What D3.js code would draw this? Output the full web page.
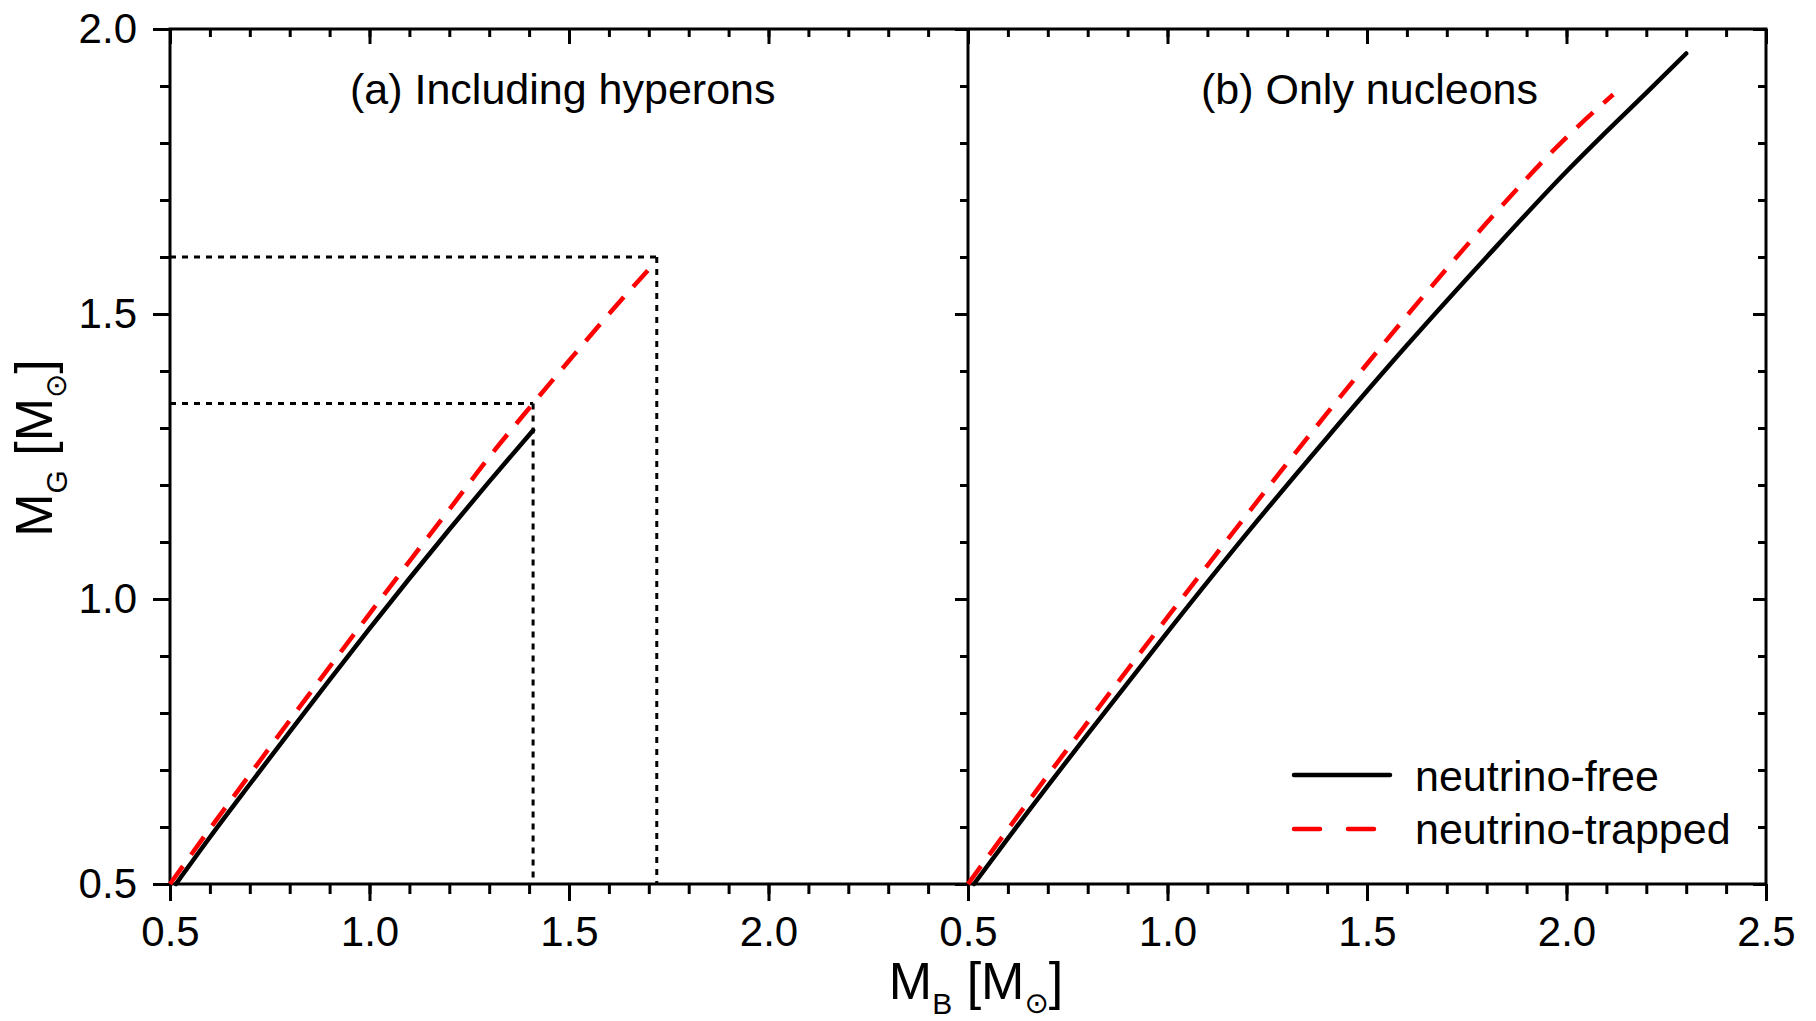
<!DOCTYPE html>
<html><head><meta charset="utf-8">
<script src="https://cdn.jsdelivr.net/npm/d3@7"></script>
<style>
html,body{margin:0;padding:0;background:#fff;}
text{font-family:"Liberation Sans",Arial,Helvetica,sans-serif;fill:#000;}
</style></head>
<body>
<svg id="c" width="1816" height="1021"></svg>
<script>
// ---------- data ----------
const xMajorLeft = [0.5, 1.0, 1.5, 2.0];
const xMajorRight = [0.5, 1.0, 1.5, 2.0, 2.5];
const yMajor = [0.5, 1.0, 1.5, 2.0];
const minorTicks = [0.5,0.6,0.7,0.8,0.9,1.0,1.1,1.2,1.3,1.4,1.5,1.6,1.7,1.8,1.9,2.0,2.1,2.2,2.3,2.4,2.5];

// Panel (a): including hyperons
const hypFreeMB = [0.515, 0.6, 0.7, 0.8, 0.9, 1.0, 1.1, 1.2, 1.3, 1.41];
const hypFreeMG = [0.50, 0.582, 0.675, 0.767, 0.858, 0.948, 1.036, 1.122, 1.206, 1.296];
const hypTrapMB = [0.5, 0.6, 0.7, 0.8, 0.9, 1.0, 1.1, 1.2, 1.3, 1.41, 1.5, 1.6, 1.715];
const hypTrapMG = [0.5, 0.597, 0.692, 0.787, 0.881, 0.974, 1.066, 1.157, 1.249, 1.343, 1.418, 1.50, 1.59];
// dotted guide lines in panel (a)
const guideMB = [1.41, 1.72];
const guideMG = [1.343, 1.6];

// Panel (b): only nucleons
const nucFreeMB = [0.515, 0.6, 0.8, 1.0, 1.2, 1.4, 1.6, 1.8, 2.0, 2.1, 2.2, 2.3];
const nucFreeMG = [0.50, 0.58, 0.763, 0.942, 1.116, 1.283, 1.445, 1.60, 1.75, 1.82, 1.888, 1.957];
const nucTrapMB = [0.5, 0.6, 0.8, 1.0, 1.2, 1.4, 1.6, 1.8, 2.0, 2.117];
const nucTrapMG = [0.5, 0.596, 0.784, 0.968, 1.149, 1.326, 1.497, 1.66, 1.81, 1.885];

const seriesNames = ["neutrino-free", "neutrino-trapped"];
const panelTitles = ["(a) Including hyperons", "(b) Only nucleons"];

// ---------- layout ----------
const svg = d3.select("#c");
const L = 170, M = 968, R = 1766, T = 29, B = 884;
const xL = d3.scaleLinear().domain([0.5, 2.5]).range([L, M]);
const xR = d3.scaleLinear().domain([0.5, 2.5]).range([M, R]);
const y = d3.scaleLinear().domain([0.5, 2.0]).range([B, T]);
const MAJ = 17, MIN = 10, AW = 3;
const fmt = d3.format(".1f");
const TICKFONT = 42;

function styleAxis(g){
  g.select(".domain").remove();
  g.selectAll(".tick line").attr("stroke","#000").attr("stroke-width",AW);
}

// bottom axes
function bottomAxis(x, majors){
  svg.append("g").attr("transform",`translate(0,${B})`)
    .call(d3.axisBottom(x).tickValues(minorTicks).tickSize(MIN).tickFormat(""))
    .call(styleAxis);
  const g = svg.append("g").attr("transform",`translate(0,${B})`)
    .call(d3.axisBottom(x).tickValues(majors).tickSize(MAJ).tickFormat(fmt))
    .call(styleAxis);
  g.selectAll(".tick text").attr("y",62).attr("dy",0)
    .attr("font-size",TICKFONT).attr("font-family","Liberation Sans");
}
bottomAxis(xL, xMajorLeft);
bottomAxis(xR, xMajorRight);

// top axes (ticks pointing down)
function topAxis(x, majors){
  svg.append("g").attr("transform",`translate(0,${T})`)
    .call(d3.axisBottom(x).tickValues(minorTicks).tickSize(MIN-2).tickFormat(""))
    .call(styleAxis);
  svg.append("g").attr("transform",`translate(0,${T})`)
    .call(d3.axisBottom(x).tickValues(majors).tickSize(MAJ-2).tickFormat(""))
    .call(styleAxis);
}
topAxis(xL, xMajorRight);
topAxis(xR, xMajorRight);

// left axis
const yMinor = minorTicks.filter(v => v <= 2.0);
svg.append("g").attr("transform",`translate(${L},0)`)
  .call(d3.axisLeft(y).tickValues(yMinor).tickSize(MIN).tickFormat(""))
  .call(styleAxis);
const gy = svg.append("g").attr("transform",`translate(${L},0)`)
  .call(d3.axisLeft(y).tickValues(yMajor).tickSize(MAJ).tickFormat(fmt))
  .call(styleAxis);
gy.selectAll(".tick text").attr("x",-33).attr("dy","0.32em")
  .attr("font-size",TICKFONT).attr("font-family","Liberation Sans");

// middle and right axes (ticks pointing left)
[M, R].forEach(px => {
  svg.append("g").attr("transform",`translate(${px},0)`)
    .call(d3.axisLeft(y).tickValues(yMinor).tickSize(MIN-2).tickFormat(""))
    .call(styleAxis);
  svg.append("g").attr("transform",`translate(${px},0)`)
    .call(d3.axisLeft(y).tickValues(yMajor).tickSize(MAJ-4).tickFormat(""))
    .call(styleAxis);
});

// frame
svg.append("rect").attr("x",L).attr("y",T).attr("width",R-L).attr("height",B-T)
  .attr("fill","none").attr("stroke","#000").attr("stroke-width",AW);
svg.append("line").attr("x1",M).attr("x2",M).attr("y1",T).attr("y2",B)
  .attr("stroke","#000").attr("stroke-width",AW);

// dotted guides (panel a)
const dotted = {stroke:"#000","stroke-width":3,"stroke-dasharray":"6,6",fill:"none"};
guideMB.forEach((mb,i) => {
  const mg = guideMG[i];
  const p1 = svg.append("path").attr("d", d3.line()([[xL(0.5), y(mg)],[xL(mb), y(mg)]]));
  const p2 = svg.append("path").attr("d", d3.line()([[xL(mb), y(mg)],[xL(mb), y(0.5)]]));
  [p1,p2].forEach(p => Object.entries(dotted).forEach(([k,v]) => p.attr(k,v)));
});

// data lines
function drawLine(x, mbs, mgs, color, width, dash){
  const pts = mbs.map((v,i) => [v, mgs[i]]);
  const line = d3.line().x(d => x(d[0])).y(d => y(d[1])).curve(d3.curveMonotoneX);
  const p = svg.append("path").datum(pts).attr("d", line)
    .attr("fill","none").attr("stroke",color).attr("stroke-width",width)
    .attr("stroke-linejoin","round");
  if (dash) p.attr("stroke-dasharray",dash).attr("stroke-linecap","butt");
  else p.attr("stroke-linecap","round");
}
drawLine(xL, hypFreeMB, hypFreeMG, "#000", 4.5, null);
drawLine(xL, hypTrapMB, hypTrapMG, "#ff0000", 4.5, "22,14");
drawLine(xR, nucFreeMB, nucFreeMG, "#000", 4.5, null);
drawLine(xR, nucTrapMB, nucTrapMG, "#ff0000", 4.5, "22,14");

// panel titles
svg.append("text").attr("x",350).attr("y",104).attr("font-size",43).text(panelTitles[0]);
svg.append("text").attr("x",1201).attr("y",104).attr("font-size",43).text(panelTitles[1]);

// legend
const legend = [
  {name: seriesNames[0], color:"#000", dash:null, ly:775, ty:791},
  {name: seriesNames[1], color:"#ff0000", dash:"26,28", ly:829, ty:844}
];
legend.forEach(d => {
  const l = svg.append("line").attr("x1",1294).attr("x2",1390).attr("y1",d.ly).attr("y2",d.ly)
    .attr("stroke",d.color).attr("stroke-width",4.5).attr("stroke-linecap","round");
  if (d.dash) l.attr("stroke-dasharray",d.dash);
  svg.append("text").attr("x",1415).attr("y",d.ty).attr("font-size",43).text(d.name);
});

// axis titles
function axisTitle(g, sub){
  const t = g.append("text").attr("font-size",52).attr("text-anchor","middle");
  t.append("tspan").text("M");
  t.append("tspan").attr("font-size",30).attr("dy",15).text(sub);
  t.append("tspan").attr("dy",-15).text(" [M");
  t.append("tspan").attr("font-size",29).attr("dy",14)
    .attr("font-family","DejaVu Sans").text("\u2299");
  t.append("tspan").attr("dy",-14).text("]");
}
axisTitle(svg.append("g").attr("transform","translate(976,999)"), "B");
axisTitle(svg.append("g").attr("transform","translate(52,448) rotate(-90)"), "G");
</script>
</body></html>
